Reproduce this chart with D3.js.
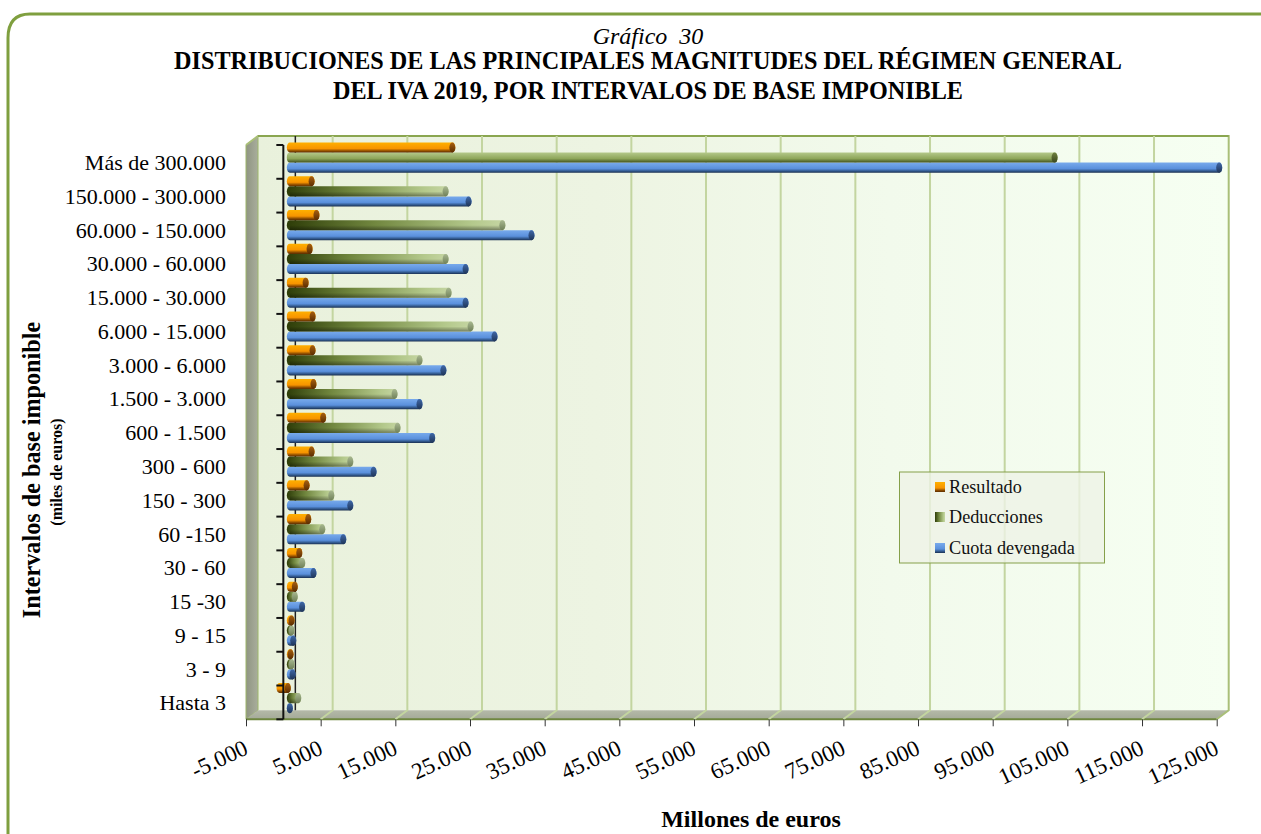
<!DOCTYPE html>
<html lang="es">
<head>
<meta charset="utf-8">
<title>Gráfico 30</title>
<script src="https://cdnjs.cloudflare.com/ajax/libs/d3/7.8.5/d3.min.js"></script>
<style>
html, body { margin: 0; padding: 0; background: #fff; overflow: hidden; }
svg { display: block; font-family: "Liberation Serif", serif; }
</style>
</head>
<body>
<script>
// valores, de arriba a abajo
var categories = ["Más de 300.000", "150.000 - 300.000", "60.000 - 150.000", "30.000 - 60.000", "15.000 - 30.000",
  "6.000 - 15.000", "3.000 - 6.000", "1.500 - 3.000", "600 - 1.500", "300 - 600", "150 - 300", "60 -150",
  "30 - 60", "15 -30", "9 - 15", "3 - 9", "Hasta 3"];
var resultado = [22300, 3450, 4100, 3180, 2650, 3580, 3580, 3700, 5000, 3450, 2780, 3000, 1800, 1200, 760, 630, -1650];
var deducciones = [102950, 21400, 29000, 21400, 21800, 24740, 17900, 14560, 14960, 8630, 6090, 4880, 2200, 1200, 760, 760, 1660];
var cuota = [125000, 24470, 32900, 24070, 24070, 27950, 21100, 17900, 19600, 11750, 8630, 7690, 3700, 2180, 990, 900, 360];
var xTicks = [-5000, 5000, 15000, 25000, 35000, 45000, 55000, 65000, 75000, 85000, 95000, 105000, 115000, 125000];
var seriesNames = ["Resultado", "Deducciones", "Cuota devengada"];

var w = 1261, h = 834;
var depthX = 12, depthY = -9;   // profundidad de la caja 3D
var svg = d3.select("body").append("svg").attr("width", w).attr("height", h);
var defs = svg.append("defs");

var x = d3.scaleLinear().domain([-5000, 125000]).range([246, 1216.7]);
var y = d3.scaleBand().domain(categories).range([145, 719.3]);
var inner = d3.scaleBand().domain(seriesNames).range([2, y.bandwidth() - 1.6]);
var barH = inner.bandwidth();
// las barras van a media profundidad
function bx(v) { return x(v) + 5.5; }
function by(c, s) { return y(c) + inner(s) + depthY / 2; }

function grad(id, x2, y2, stops) {
  var g = defs.append("linearGradient").attr("id", id)
    .attr("x1", 0).attr("y1", 0).attr("x2", x2).attr("y2", y2);
  stops.forEach(function(s) { g.append("stop").attr("offset", s[0]).attr("stop-color", s[1]); });
}
grad("wall", 1, 0, [[0, "#e9f1dc"], [0.35, "#edf4e2"], [0.65, "#f2faec"], [1, "#f6fff2"]]);
grad("side", 1, 0, [[0, "#8f9582"], [1, "#a9ae9c"]]);
grad("floor", 0, 1, [[0, "#b4b9a8"], [1, "#a4aa98"]]);
grad("orange", 0, 1, [[0, "#ffb000"], [0.6, "#f79400"], [0.85, "#8a4a00"], [1, "#5a2c00"]]);
grad("blue", 0, 1, [[0, "#78aaec"], [0.6, "#5a90dc"], [0.85, "#2f5588"], [1, "#1a2f50"]]);
grad("greenH", 1, 0, [[0, "#2e3d08"], [0.4, "#71873f"], [0.85, "#b4c98c"], [1, "#c6d6a4"]]);
grad("greenTop", 0, 1, [[0, "#b4c88a"], [0.6, "#8ea65a"], [1, "#3f4f1c"]]);
grad("capOrange", 0, 1, [[0, "#a86010"], [1, "#5a2c00"]]);
grad("capBlue", 0, 1, [[0, "#3f68a8"], [1, "#1f3558"]]);
grad("capGreen", 0, 1, [[0, "#a8b890"], [1, "#6f8058"]]);
grad("capGreenTop", 0, 1, [[0, "#6f8040"], [1, "#39461c"]]);
grad("shade", 0, 1, [[0, "#000000"], [1, "#000000"]]);
defs.select("#shade").selectAll("stop").attr("stop-opacity", function(d, i) { return i ? 0.4 : 0; });

// marco
svg.append("path")
  .attr("d", "M1265,14 H30 Q8,14 8,38 V850")
  .attr("fill", "none").attr("stroke", "#7f9f3f").attr("stroke-width", 3);

// titulos
var cx = 648;
svg.append("text").attr("x", cx).attr("y", 44).attr("text-anchor", "middle")
  .attr("font-size", 24).attr("font-style", "italic").attr("xml:space", "preserve").text("Gráfico  30");
svg.append("text").attr("x", cx).attr("y", 69).attr("text-anchor", "middle")
  .attr("font-size", 24.2).attr("font-weight", "bold").text("DISTRIBUCIONES DE LAS PRINCIPALES MAGNITUDES DEL RÉGIMEN GENERAL");
svg.append("text").attr("x", cx).attr("y", 99).attr("text-anchor", "middle")
  .attr("font-size", 24.2).attr("font-weight", "bold").text("DEL IVA 2019, POR INTERVALOS DE BASE IMPONIBLE");

// caja 3D
var x0 = x.range()[0], x1 = x.range()[1], y0 = y.range()[0], y1 = y.range()[1];
function pts(a) { return a.map(function(p) { return p.join(","); }).join(" "); }
svg.append("rect").attr("x", x0 + depthX).attr("y", y0 + depthY).attr("width", x1 - x0)
  .attr("height", y1 - y0).attr("fill", "url(#wall)");
svg.append("polygon").attr("points", pts([[x0, y0], [x0 + depthX, y0 + depthY], [x0 + depthX, y1 + depthY], [x0, y1]]))
  .attr("fill", "url(#side)").attr("stroke", "#9db56a").attr("stroke-width", 1);
svg.append("polygon").attr("points", pts([[x0, y1], [x0 + depthX, y1 + depthY], [x1 + depthX, y1 + depthY], [x1, y1]]))
  .attr("fill", "url(#floor)");
svg.append("line").attr("x1", x0).attr("x2", x1).attr("y1", y1).attr("y2", y1).attr("stroke", "#6f8740").attr("stroke-width", 2);
svg.append("path").attr("fill", "none").attr("stroke", "#a9bf78").attr("stroke-width", 2)
  .attr("d", "M" + x0 + "," + y0 + "L" + (x0 + depthX) + "," + (y0 + depthY) + "H" + (x1 + depthX) + "V" + (y1 + depthY) + "L" + x1 + "," + y1);
svg.append("line").attr("x1", x0 + depthX).attr("x2", x1 + depthX).attr("y1", y0 + depthY).attr("y2", y0 + depthY)
  .attr("stroke", "#8aa650").attr("stroke-width", 2);

// rejilla
svg.append("g").selectAll("path").data(xTicks.slice(1, -1)).enter().append("path")
  .attr("fill", "none").attr("stroke", "#c3d5a0").attr("stroke-width", 2)
  .attr("d", function(d) {
    return "M" + x(d) + "," + y1 + "L" + (x(d) + depthX) + "," + (y1 + depthY) + "V" + (y0 + depthY);
  });

// eje del cero, pared del fondo
svg.append("line").attr("x1", x(0) + depthX).attr("x2", x(0) + depthX)
  .attr("y1", y0 + depthY).attr("y2", y1 + depthY).attr("stroke", "#222").attr("stroke-width", 1.5);

// eje x
var xAxis = d3.axisBottom(x).tickValues(xTicks).tickSize(7).tickSizeOuter(0)
  .tickFormat(function(d) { return (d < 0 ? "-" : "") + d3.format(",")(Math.abs(d)).replace(/,/g, "."); });
var gx = svg.append("g").attr("transform", "translate(0," + y1 + ")").call(xAxis);
gx.select(".domain").remove();
gx.selectAll(".tick line").attr("stroke", "#333");
gx.selectAll(".tick text")
  .attr("font-family", "Liberation Serif").attr("font-size", 23).attr("fill", "#000")
  .attr("text-anchor", "end").attr("dy", 0).attr("y", 0)
  .attr("transform", "translate(3,34) rotate(-25)");

// barras
function barGroup(values, name, fill) {
  var g = svg.append("g");
  var data = categories.map(function(c, i) { return { c: c, v: values[i], i: i }; });
  data.forEach(function(d) {
    var ry = barH / 2, rx = 3;
    var start = bx(0) + 1, end = bx(d.v) - rx;
    var top = by(d.c, name);
    var gb = g.append("g");
    if (d.v < 0) {
      start = bx(d.v) + rx;
      end = bx(0) - 1;
    }
    if (end < start) end = start;
    gb.append("path")
      .attr("d", "M" + start + "," + top + "H" + end + "A" + rx + "," + ry + " 0 0 1 " + end + "," + (top + barH) +
        "H" + start + "A" + rx + "," + ry + " 0 0 1 " + start + "," + top + "Z")
      .attr("fill", fill(d));
    if (name === "Deducciones" && d.i > 0) {
      gb.append("rect").attr("x", start).attr("y", top + barH * 0.5).attr("width", end - start)
        .attr("height", barH * 0.5).attr("fill", "url(#shade)");
    }
    // tapa del cilindro
    var cap = name === "Resultado" ? "url(#capOrange)" : name === "Cuota devengada" ? "url(#capBlue)" :
      (d.i === 0 ? "url(#capGreenTop)" : "url(#capGreen)");
    gb.append("ellipse").attr("cx", end).attr("cy", top + barH / 2).attr("rx", rx).attr("ry", ry)
      .attr("fill", cap);
  });
}
barGroup(cuota, "Cuota devengada", function() { return "url(#blue)"; });
barGroup(deducciones, "Deducciones", function(d) { return d.i === 0 ? "url(#greenTop)" : "url(#greenH)"; });
barGroup(resultado, "Resultado", function() { return "url(#orange)"; });

// eje y
var yAxis = d3.axisLeft(y).tickSize(0);
var gy = svg.append("g").attr("transform", "translate(" + x(0) + ",1)").call(yAxis);
gy.select(".domain").remove();
gy.selectAll(".tick text")
  .attr("font-family", "Liberation Serif").attr("font-size", 22).attr("fill", "#000")
  .attr("text-anchor", "end").attr("x", 226 - x(0)).attr("dy", "0.32em");
svg.append("line").attr("x1", x(0)).attr("x2", x(0)).attr("y1", y0).attr("y2", y1).attr("stroke", "#111").attr("stroke-width", 2);
svg.append("g").selectAll("line").data(y.domain().concat(["end"])).enter().append("line")
  .attr("x1", x(0) - 7).attr("x2", x(0))
  .attr("y1", function(d) { return d === "end" ? y1 : y(d); })
  .attr("y2", function(d) { return d === "end" ? y1 : y(d); })
  .attr("stroke", "#111").attr("stroke-width", 2);

// titulos de eje
svg.append("text").attr("x", 751).attr("y", 827).attr("text-anchor", "middle")
  .attr("font-size", 24).attr("font-weight", "bold").text("Millones de euros");
svg.append("text").attr("transform", "translate(40,470) rotate(-90)").attr("text-anchor", "middle")
  .attr("font-size", 24.2).attr("font-weight", "bold").text("Intervalos de base imponible");
svg.append("text").attr("transform", "translate(62,472) rotate(-90)").attr("text-anchor", "middle")
  .attr("font-size", 16).attr("font-weight", "bold").text("(miles de euros)");

// leyenda
var legend = svg.append("g");
legend.append("rect").attr("x", 899.5).attr("y", 472).attr("width", 205).attr("height", 91)
  .attr("fill", "#eef3e6").attr("fill-opacity", 0.8).attr("stroke", "#85a04a").attr("stroke-width", 1);
var legendFill = ["url(#orange)", "url(#greenH)", "url(#blue)"];
var legendY = [487, 517, 548];
seriesNames.forEach(function(name, i) {
  legend.append("rect").attr("x", 935).attr("y", legendY[i] - 5).attr("width", 10).attr("height", 10).attr("fill", legendFill[i]);
  legend.append("text").attr("x", 949).attr("y", legendY[i] + 5.5).attr("font-size", 18.2).attr("fill", "#111").text(name);
});
</script>
</body>
</html>
